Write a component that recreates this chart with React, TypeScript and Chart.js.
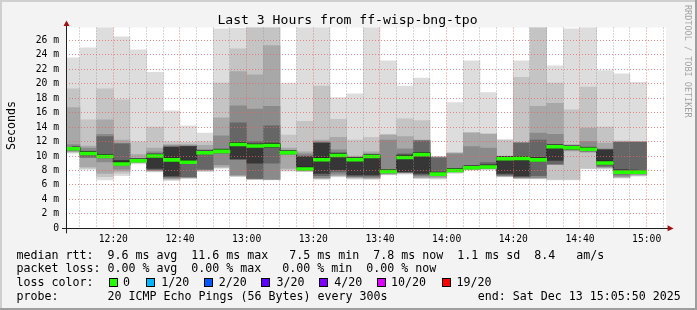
import { useEffect, useRef } from 'react';
import { Chart, registerables } from 'chart.js';

Chart.register(...registerables);

// 5-minute slots (start time of each interval)
const slots = ['12:05','12:10','12:15','12:20','12:25','12:30','12:35','12:40','12:45','12:50','12:55','13:00','13:05','13:10','13:15','13:20','13:25','13:30','13:35','13:40','13:45','13:50','13:55','14:00','14:05','14:10','14:15','14:20','14:25','14:30','14:35','14:40','14:45','14:50','14:55'];

// smoke layers (ms): outer (1) to inner (6), upper and lower edges
const hi1 = [23.6, 25.0, 28.5, 26.5, 24.7, 21.6, 16.25, 14.2, 13.2, 27.6, 27.7, 29.5, 29, 20.1, 29, 29, 18.1, 18.6, 29, 23.2, 19.7, 20.8, 9.95, 17.4, 23.2, 18.8, 12.25, 23.2, 29, 22.5, 27.6, 29, 21.85, 21.4, 20.2];
const hi2 = [19.3, 15.0, 19.3, 17.8, 12.0, 14.0, 12.0, 11.9, 12.0, 20.1, 24.85, 29.0, 29, 12.9, 14.8, 19.7, 15.1, 12.2, 12.6, 13.0, 15.15, 14.9, 9.9, 10.5, 13.3, 13.1, 12.2, 20.9, 29, 20.1, 16.4, 19.55, 14.0, 12.1, 12.05];
const hi3 = [16.7, 11.4, 15.0, 12.2, 10.2, 11.1, 11.6, 11.6, 11.5, 15.3, 21.7, 21.25, 25.3, 11.1, 10.6, 12.2, 12.6, 10.0, 10.6, 12.9, 12.7, 12.2, 9.85, 10.4, 13.2, 13.0, 10.0, 11.9, 16.9, 17.3, 11.6, 13.86, 11.8, 12.0, 12.0];
const hi4 = [11.6, 11.1, 13.0, 11.8, 9.7, 10.6, 11.45, 11.45, 10.9, 12.8, 16.95, 16.5, 16.9, 10.8, 10.3, 12.0, 10.85, 9.8, 10.3, 12.2, 11.0, 12.15, 9.8, 10.3, 11.3, 11.1, 9.95, 11.85, 13.2, 13.0, 11.4, 12.0, 11.0, 11.95, 11.95];
const hi5 = [11.2, 10.7, 12.7, 11.7, 9.5, 10.3, 11.3, 11.35, 10.7, 11.0, 14.6, 12.0, 14.2, 10.6, 10.0, 11.85, 10.5, 9.75, 10.1, 8.1, 10.3, 12.1, 9.75, 8.2, 8.6, 9.1, 9.92, 11.8, 12.2, 11.5, 11.3, 11.2, 10.9, 11.9, 11.9];
const hi6 = [11.1, 10.5, 10.2, 9.4, 9.45, 10.1, 11.2, 11.3, 10.55, 10.8, 11.8, 11.5, 11.8, 10.55, 9.9, 11.8, 10.2, 9.7, 10.05, 8.0, 10.15, 10.45, 7.7, 8.1, 8.5, 8.6, 9.9, 9.9, 9.8, 11.35, 11.25, 11.1, 10.85, 8.1, 8.0];
const median = [11.0, 10.35, 9.93, 8.9, 9.35, 10.0, 9.47, 9.15, 10.45, 10.65, 11.6, 11.4, 11.45, 10.48, 8.22, 9.5, 10.07, 9.5, 9.93, 7.85, 9.8, 10.2, 7.5, 8.0, 8.38, 8.5, 9.62, 9.65, 9.47, 11.3, 11.15, 10.95, 9.05, 7.78, 7.78];
const lo6 = [10.9, 10.2, 9.8, 8.8, 9.3, 8.3, 7.25, 9.0, 10.35, 10.5, 9.6, 9.0, 11.2, 10.4, 8.25, 7.6, 8.1, 7.4, 7.4, 7.75, 7.85, 7.6, 7.45, 7.95, 8.3, 8.4, 7.6, 7.25, 9.3, 9.4, 11.0, 10.8, 8.9, 7.7, 7.7];
const lo5 = [10.8, 9.85, 9.75, 8.75, 9.25, 8.1, 7.1, 7.15, 8.2, 10.4, 9.55, 6.9, 9.0, 10.3, 8.1, 7.3, 7.8, 7.2, 7.2, 7.7, 7.75, 7.4, 7.4, 7.9, 8.25, 8.35, 7.4, 7.1, 7.3, 8.9, 10.9, 10.7, 8.6, 7.5, 7.6];
const lo4 = [10.7, 9.8, 9.2, 8.2, 9.2, 8.0, 6.95, 7.05, 8.1, 8.8, 7.4, 6.85, 6.8, 10.2, 8.0, 7.0, 7.5, 7.1, 7.0, 7.6, 7.7, 7.2, 7.2, 7.85, 8.2, 8.3, 7.3, 7.0, 7.0, 8.85, 10.8, 10.6, 8.5, 7.2, 7.5];
const lo3 = [10.6, 8.5, 7.6, 7.9, 9.1, 7.95, 6.85, 7.0, 8.0, 8.5, 7.3, 6.83, 6.75, 8.3, 7.95, 6.9, 7.3, 7.0, 6.9, 7.5, 7.65, 7.0, 7.0, 7.8, 8.15, 8.25, 7.2, 6.95, 6.95, 8.8, 10.7, 10.5, 8.4, 7.1, 7.4];
const lo2 = [10.5, 8.3, 7.15, 7.6, 9.05, 7.9, 6.75, 6.95, 7.95, 8.4, 7.2, 6.8, 6.72, 8.0, 7.9, 6.85, 7.2, 6.9, 6.85, 7.45, 7.6, 6.95, 6.9, 7.7, 8.1, 8.2, 7.15, 6.9, 6.9, 6.75, 6.75, 8.3, 8.3, 7.0, 7.3];
const lo1 = [10.4, 8.15, 6.7, 7.3, 8.9, 7.8, 6.6, 6.9, 7.85, 8.3, 7.15, 6.8, 6.7, 7.9, 7.85, 6.8, 7.1, 6.8, 6.8, 7.4, 7.5, 6.9, 6.8, 7.6, 8.05, 8.1, 7.1, 6.85, 6.85, 6.7, 6.7, 8.25, 8.2, 6.95, 7.2];

// axis ticks
const xTickTimes = ['12:10','12:15','12:20','12:25','12:30','12:35','12:40','12:45','12:50','12:55','13:00','13:05','13:10','13:15','13:20','13:25','13:30','13:35','13:40','13:45','13:50','13:55','14:00','14:05','14:10','14:15','14:20','14:25','14:30','14:35','14:40','14:45','14:50','14:55','15:00','15:05'];
const yTickValues = [0,1,2,3,4,5,6,7,8,9,10,11,12,13,14,15,16,17,18,19,20,21,22,23,24,25,26,27];
const xStart = '12:05:50';
const xEnd = '15:05:50';

// legend
const title = 'Last 3 Hours from ff-wisp-bng-tpo';
const line1 = 'median rtt:  9.6 ms avg  11.6 ms max   7.5 ms min  7.8 ms now  1.1 ms sd  8.4   am/s';
const line2 = 'packet loss: 0.00 % avg  0.00 % max   0.00 % min  0.00 % now';
const line3Label = 'loss color:';
const lossLabels = ['0', '1/20', '2/20', '3/20', '4/20', '10/20', '19/20'];
const lossColors = ['#26ff00', '#00b8ff', '#0059ff', '#5e00ff', '#7e00ff', '#dd00ff', '#ff0000'];
const probeLabel = 'probe:';
const probeText = '20 ICMP Echo Pings (56 Bytes) every 300s';
const endText = 'end: Sat Dec 13 15:05:50 2025';

const layerColors = ['#dddddd', '#c4c4c4', '#a8a8a8', '#8a8a8a', '#666666', '#363636'];
const MONO = '"DejaVu Sans Mono", "Liberation Mono", monospace';

function toMin(s: string): number {
  const p = s.split(':').map(Number);
  return p[0] * 60 + p[1] + (p[2] || 0) / 60;
}
function fmt(v: number): string {
  const h = Math.floor(v / 60);
  const m = Math.round(v - h * 60);
  return `${h}:${String(m).padStart(2, '0')}`;
}

export default function App() {
  const ref = useRef<HTMLCanvasElement>(null);

  useEffect(() => {
    const canvas = ref.current;
    if (!canvas) return;
    const his = [hi1, hi2, hi3, hi4, hi5, hi6];
    const los = [lo1, lo2, lo3, lo4, lo5, lo6];
    const centers = slots.map((s) => toMin(s) + 2.5);

    const datasets: any[] = his.map((hi, k) => ({
      type: 'bar',
      data: centers.map((x, i) => ({ x, y: [los[k][i], hi[i]] })),
      backgroundColor: layerColors[k],
      borderWidth: 0,
      grouped: false,
      barPercentage: 1,
      categoryPercentage: 1,
      order: 20 - k,
    }));
    datasets.push({
      type: 'line',
      data: centers.map((x, i) => ({ x, y: median[i] + 0.25 })),
      borderColor: '#1e1e1e',
      borderWidth: 1,
      stepped: 'middle',
      pointRadius: 0,
      order: 2,
    });
    datasets.push({
      type: 'bar',
      data: centers.map((x, i) => ({ x, y: [median[i] - 0.2, median[i] + 0.2] })),
      backgroundColor: '#26ff00',
      borderWidth: 0,
      grouped: false,
      barPercentage: 1,
      categoryPercentage: 1,
      order: 1,
    });

    const minorGrid = 'rgba(150,150,150,0.75)';
    const majorGrid = 'rgba(230,100,100,0.75)';

    const decor = {
      id: 'decor',
      beforeDraw(chart: any) {
        const { ctx, chartArea: a } = chart;
        ctx.save();
        ctx.fillStyle = '#f3f3f3';
        ctx.fillRect(0, 0, chart.width, chart.height);
        ctx.fillStyle = '#ffffff';
        ctx.fillRect(a.left, a.top, a.right - a.left, a.bottom - a.top);
        ctx.restore();
      },
      afterDraw(chart: any) {
        const { ctx, chartArea: a } = chart;
        const W = chart.width;
        const H = chart.height;
        ctx.save();
        // axes
        ctx.fillStyle = '#202020';
        const yb = Math.floor(a.bottom);
        const xl = Math.floor(a.left);
        ctx.fillRect(xl - 4, yb, a.right - a.left + 6, 1);
        ctx.fillRect(xl, a.top - 2, 1, a.bottom - a.top + 7);
        // arrows
        ctx.fillStyle = '#a01010';
        ctx.beginPath();
        ctx.moveTo(a.right + 1.5, yb - 2.8);
        ctx.lineTo(a.right + 1.5, yb + 3.2);
        ctx.lineTo(a.right + 7.5, yb + 0.5);
        ctx.closePath();
        ctx.fill();
        ctx.beginPath();
        ctx.moveTo(xl - 2.5, a.top - 1.5);
        ctx.lineTo(xl + 3.5, a.top - 1.5);
        ctx.lineTo(xl + 0.5, a.top - 7);
        ctx.closePath();
        ctx.fill();

        // title
        ctx.fillStyle = '#000';
        ctx.font = `13.1px ${MONO}`;
        ctx.textAlign = 'center';
        ctx.textBaseline = 'alphabetic';
        ctx.fillText(title, 347.5, 23.6);

        // y title
        ctx.save();
        ctx.translate(15, 125.5);
        ctx.rotate(-Math.PI / 2);
        ctx.font = `11.6px ${MONO}`;
        ctx.textAlign = 'center';
        ctx.fillText('Seconds', 0, 0);
        ctx.restore();

        // watermark
        ctx.save();
        ctx.translate(685, 5);
        ctx.rotate(Math.PI / 2);
        ctx.font = `8.5px ${MONO}`;
        ctx.textAlign = 'left';
        ctx.fillStyle = 'rgba(0,0,0,0.35)';
        ctx.fillText('RRDTOOL / TOBI OETIKER', 0, 0);
        ctx.restore();

        // legend
        ctx.font = `11.63px ${MONO}`;
        ctx.textAlign = 'left';
        ctx.fillStyle = '#000';
        const lx = 16.4;
        ctx.fillText(line1, lx, 258.6);
        ctx.fillText(line2, lx, 272.3);
        ctx.fillText(line3Label, lx, 286);
        const boxX = [109, 146, 204, 261, 319, 377, 442];
        const textX = [123.1, 161.3, 218.7, 276.4, 334.2, 391.1, 456.4];
        lossLabels.forEach((lab, i) => {
          ctx.fillStyle = lossColors[i];
          ctx.fillRect(boxX[i], 278, 8, 8);
          ctx.strokeStyle = '#000';
          ctx.lineWidth = 1;
          ctx.strokeRect(boxX[i] + 0.5, 278.5, 8, 8);
          ctx.fillStyle = '#000';
          ctx.fillText(lab, textX[i], 286);
        });
        ctx.fillText(probeLabel, lx, 299.7);
        ctx.fillText(probeText, 107.5, 299.7);
        ctx.fillText(endText, 477.8, 299.7);

        // frame
        ctx.fillStyle = '#cfcfcf';
        ctx.fillRect(0, 0, W, 2);
        ctx.fillRect(0, 0, 2, H);
        ctx.fillStyle = '#9e9e9e';
        ctx.fillRect(0, H - 2, W, 2);
        ctx.fillRect(W - 2, 0, 2, H);
        ctx.restore();
      },
    };

    const tickFont = { family: MONO, size: 9.7 };

    const chart = new Chart(canvas, {
      type: 'bar',
      data: { datasets },
      options: {
        responsive: false,
        animation: false,
        devicePixelRatio: 1,
        layout: { padding: { left: 0, right: 30.9, top: 27.5, bottom: 61.7 } },
        plugins: {
          legend: { display: false },
          tooltip: { enabled: false },
          title: { display: false },
        },
        scales: {
          x: {
            type: 'linear',
            min: toMin(xStart),
            max: toMin(xEnd),
            offset: false,
            afterBuildTicks: (s: any) => {
              s.ticks = xTickTimes.map((t) => ({ value: toMin(t) }));
            },
            afterFit: (s: any) => {
              s.height = 20;
            },
            grid: {
              offset: false,
              z: 1,
              drawTicks: false,
              lineWidth: 1,
              color: (c: any) => (c.tick && Math.round(c.tick.value) % 20 === 0 ? majorGrid : minorGrid),
            },
            border: { display: false, dash: [1, 2] },
            ticks: {
              autoSkip: false,
              maxRotation: 0,
              minRotation: 0,
              padding: 5,
              color: '#000',
              font: tickFont,
              callback: (v: any) => (Math.round(v) % 20 === 0 ? fmt(v) : ''),
            },
          },
          y: {
            type: 'linear',
            min: 0,
            max: 27.8,
            afterBuildTicks: (s: any) => {
              s.ticks = yTickValues.map((v) => ({ value: v }));
            },
            afterFit: (s: any) => {
              s.width = 66.1;
            },
            grid: {
              z: 1,
              drawTicks: false,
              lineWidth: 1,
              color: (c: any) => (c.tick && c.tick.value % 2 === 0 ? majorGrid : minorGrid),
            },
            border: { display: false, dash: [1, 2] },
            ticks: {
              padding: 7,
              color: '#000',
              font: tickFont,
              callback: (v: any) => (v % 2 === 0 ? (v === 0 ? '0' : `${v} m`) : ''),
            },
          },
        },
      } as any,
      plugins: [decor],
    });

    return () => chart.destroy();
  }, []);

  return (
    <div style={{ position: 'absolute', left: 0, top: 0, width: 697, height: 310 }}>
      <canvas ref={ref} width={697} height={310} style={{ display: 'block' }} />
    </div>
  );
}
